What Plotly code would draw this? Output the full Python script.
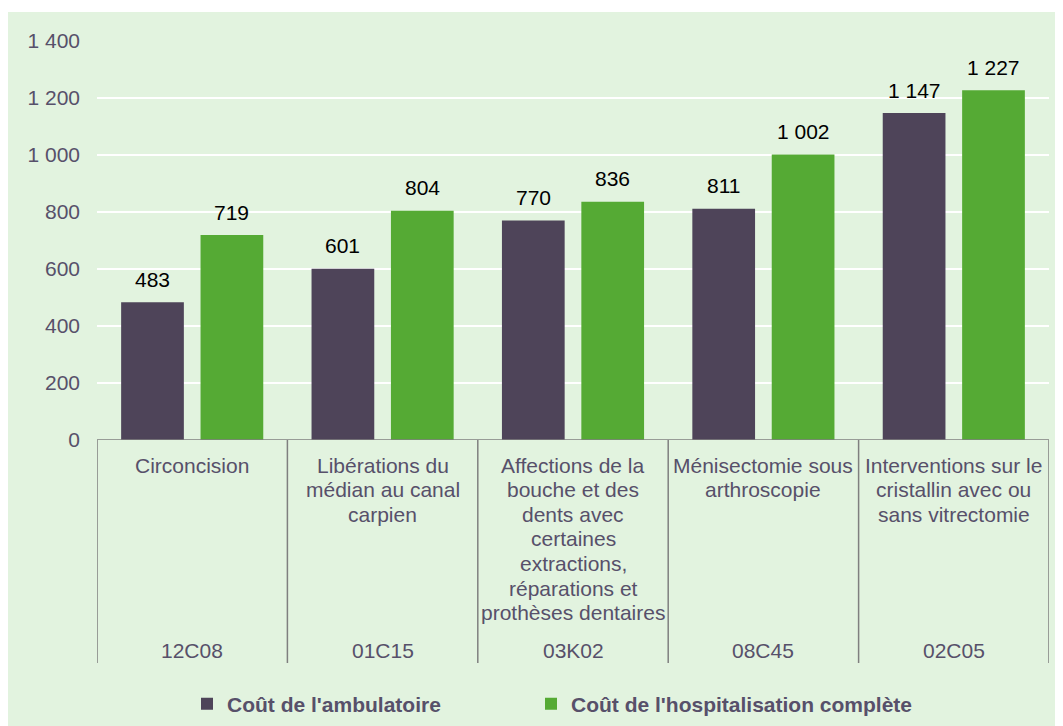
import plotly.graph_objects as go

# ---- data ----
labels = [
    ["Circoncision"],
    ["Libérations du", "médian au canal", "carpien"],
    ["Affections de la", "bouche et des", "dents avec", "certaines",
     "extractions,", "réparations et", "prothèses dentaires"],
    ["Ménisectomie sous", "arthroscopie"],
    ["Interventions sur le", "cristallin avec ou", "sans vitrectomie"],
]
codes = ["12C08", "01C15", "03K02", "08C45", "02C05"]
ambulatoire = [483, 601, 770, 811, 1147]
hospitalisation = [719, 804, 836, 1002, 1227]
series_names = ["Coût de l'ambulatoire", "Coût de l'hospitalisation complète"]
y_ticks = [0, 200, 400, 600, 800, 1000, 1200, 1400]

# ---- style ----
OFF = 8  # page body margin
W, H = 1063 - OFF, 726 - OFF
ML, MR, MT, MB = 97 - OFF, 14, 41 - OFF, 286
PH = H - MT - MB
BG = "#E2F3DF"
C_DARK = "#4E4459"
C_GREEN = "#55AA34"
TXT = "#57506A"
FONT = "Liberation Sans, Arial, sans-serif"
FS = 21
BARGAP = 0.166
GROUPGAP = 0.21

x = list(range(len(codes)))

def py(p):  # screen pixel y -> paper y
    return (H - MB - (p - OFF)) / PH

def px(p):  # screen pixel x -> paper x
    return ((p - OFF) - ML) / (W - ML - MR)

def cx(p):  # screen pixel x -> container x
    return (p - OFF) / W

def cy(p):  # screen pixel y -> container y
    return 1 - (p - OFF) / H

fig = go.Figure()
fig.add_bar(x=x, y=ambulatoire, name=series_names[0], marker_color=C_DARK,
            marker_line_width=0, legend="legend")
fig.add_bar(x=x, y=hospitalisation, name=series_names[1], marker_color=C_GREEN,
            marker_line_width=0, legend="legend2")

annotations = []
off = (1 - BARGAP) / 4
for i in x:
    for dx, v in ((-off, ambulatoire[i]), (off, hospitalisation[i])):
        annotations.append(dict(x=i + dx, y=v, xref="x", yref="y",
                                text=f"{v:,}".replace(",", " "),
                                showarrow=False, yanchor="middle", yshift=23,
                                font=dict(family=FONT, size=FS, color="#000000")))
    for k, line in enumerate(labels[i]):
        annotations.append(dict(x=i, y=py(465 + 24.6 * k), xref="x", yref="paper",
                                text=line, showarrow=False, yanchor="middle",
                                font=dict(family=FONT, size=FS, color=TXT)))
    annotations.append(dict(x=i, y=py(650), xref="x", yref="paper",
                            text=codes[i], showarrow=False, yanchor="middle",
                            font=dict(family=FONT, size=FS, color=TXT)))

shapes = [dict(type="rect", xref="paper", yref="paper", layer="below",
               x0=px(OFF - 2), x1=px(1063 + 20), y0=py(12), y1=py(726 + 20),
               fillcolor=BG, line_width=0)]
for i in range(len(codes) + 1):
    shapes.append(dict(type="line", xref="x", yref="paper",
                       x0=i - 0.5, x1=i - 0.5, y0=0, y1=py(663),
                       line=dict(color="#7F7F7F", width=1.5)))
shapes.append(dict(type="line", xref="paper", yref="y", x0=0, x1=1, y0=0, y1=0,
                   line=dict(color="#7F7F7F", width=1.5)))

legend_common = dict(orientation="h", xref="container", yref="container",
                     xanchor="left", yanchor="middle", bgcolor="rgba(0,0,0,0)",
                     font=dict(family=FONT, size=FS, color=TXT, weight="bold"),
                     itemclick=False, itemdoubleclick=False)

fig.update_layout(
    width=W, height=H, autosize=False,
    margin=dict(l=ML, r=MR, t=MT, b=MB, pad=0),
    paper_bgcolor="white", plot_bgcolor=BG,
    barmode="group", bargap=BARGAP, bargroupgap=GROUPGAP,
    separators=", ",
    font=dict(family=FONT, size=FS, color=TXT),
    annotations=annotations, shapes=shapes,
    showlegend=True,
    legend=dict(x=cx(187), y=cy(704), **legend_common),
    legend2=dict(x=cx(531), y=cy(704), **legend_common),
)
fig.update_xaxes(range=[-0.5, len(codes) - 0.5], showticklabels=False,
                 showgrid=False, zeroline=False, fixedrange=True)
fig.update_yaxes(range=[0, 1400], tickvals=y_ticks, separatethousands=True,
                 showgrid=True, gridcolor="#FFFFFF", gridwidth=1.5,
                 zeroline=False, ticklabelstandoff=16,
                 tickfont=dict(family=FONT, size=FS, color=TXT), fixedrange=True)

fig.write_html("out.html")
